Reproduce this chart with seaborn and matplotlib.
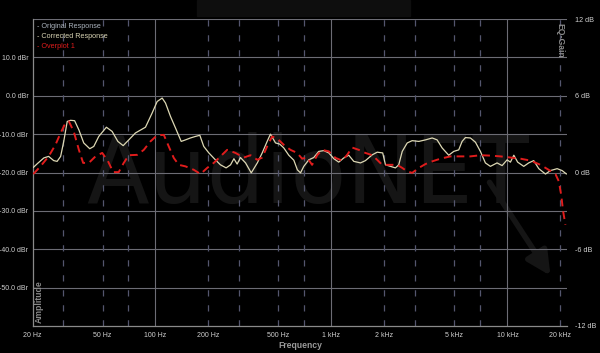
import matplotlib
matplotlib.use("Agg")
import matplotlib.pyplot as plt
import seaborn as sns
import pandas as pd

# ---------------- data ----------------
corr_freq = [20.2, 21.3, 23.2, 24.7, 26.4, 27.6, 28.9, 30.1, 31.5, 32.9, 34.7, 36.7,
             39.1, 42.3, 44.6, 47.6, 52.6, 56.7, 61.1, 65.5, 70.5, 76.9, 87.7, 95.7,
             102.2, 109.1, 114, 121.7, 129.9, 140, 148, 158, 168.8, 178.6, 188, 201,
             219, 234, 252, 267, 279, 291, 304, 325, 350, 379, 404, 431, 450, 481,
             508, 536, 572, 611, 640, 667, 696, 743, 793, 847, 904, 966, 1031, 1100,
             1175, 1254, 1339, 1462, 1560, 1704, 1819, 1955, 2027, 2163, 2309, 2411,
             2524, 2694, 2875, 3136, 3421, 3735, 3985, 4255, 4638, 4954, 5287, 5524,
             5770, 6160, 6577, 7020, 7494, 8000, 8730, 9328, 9955, 10400, 10870,
             11430, 12380, 13210, 14100, 15070, 16450, 17550, 19160, 20460, 21640]
corr_db = [-18.7, -17.7, -16.2, -15.8, -16.9, -17.1, -15.8, -11.9, -6.7, -6.4, -6.5, -8.9,
           -12.3, -13.8, -13.2, -10.6, -8.2, -9.3, -11.9, -13.0, -11.5, -9.7, -8.2, -4.5,
           -1.5, -0.6, -1.9, -5.4, -8.4, -11.9, -11.5, -11.0, -10.6, -10.3, -13.2, -14.9,
           -16.7, -18.0, -18.8, -18.0, -16.4, -17.8, -16.1, -17.5, -20.1, -17.5, -14.9,
           -11.9, -10.0, -12.3, -12.6, -13.6, -15.5, -16.8, -19.3, -20.1, -18.4, -16.7,
           -16.1, -14.5, -14.3, -14.9, -16.4, -17.3, -16.2, -15.5, -17.1, -17.5, -16.9,
           -15.4, -14.7, -14.9, -18.0, -18.4, -18.8, -18.0, -14.5, -12.3, -11.7, -11.9,
           -11.5, -11.0, -11.5, -13.6, -15.5, -14.5, -14.1, -11.9, -10.9, -11.0, -12.1,
           -14.5, -17.5, -18.4, -17.5, -18.2, -16.7, -17.3, -15.5, -17.3, -18.4, -17.5,
           -16.9, -19.0, -20.4, -19.5, -19.0, -19.5, -20.4]

over_freq = [20.2, 22.2, 24.7, 27.0, 28.9, 30.8, 32.2, 34.3, 36.7, 38.8, 41.8, 45.6,
             49.8, 53.5, 57.5, 61.8, 66.0, 70.5, 78.7, 85.8, 93.6, 102.2, 111.5, 118.9,
             127, 135.6, 148, 165.1, 180.2, 196.7, 214.4, 234, 255.4, 284.6, 317.8,
             346.9, 379, 404, 431, 460, 501, 536, 585, 638, 681, 727, 776, 829, 885,
             966, 1054, 1150, 1228, 1311, 1430, 1560, 1704, 1819, 1941, 2115, 2361,
             2524, 2694, 2875, 3136, 3421, 3735, 4162, 4743, 5408, 6160, 7020, 8000,
             9120, 10400, 11860, 13520, 15400, 17150, 18740, 19580, 20200, 20720, 21350]
over_db = [-20.4, -18.4, -15.8, -12.8, -9.7, -7.1, -6.7, -9.3, -14.1, -17.5, -17.5, -15.8,
           -14.9, -16.9, -19.9, -19.9, -17.5, -15.5, -15.4, -14.1, -11.9, -10.3, -10.2,
           -13.2, -16.2, -18.0, -18.4, -19.3, -20.4, -18.8, -17.5, -15.8, -14.1, -14.9,
           -16.1, -15.5, -16.7, -16.1, -13.2, -10.6, -11.5, -12.8, -14.1, -14.9, -16.4,
           -16.1, -18.0, -15.5, -14.1, -14.5, -16.2, -16.9, -15.4, -13.5, -14.1, -14.9,
           -15.5, -16.7, -18.0, -18.0, -18.0, -18.8, -19.7, -20.1, -18.8, -17.8, -17.1,
           -16.4, -15.8, -15.8, -15.8, -15.5, -15.6, -15.8, -16.1, -16.4, -16.9, -18.0,
           -19.3, -20.4, -22.3, -25.8, -30.1, -33.6]

x_tick_freqs = [20, 50, 100, 200, 500, 1000, 2000, 5000, 10000, 20000]
x_tick_labels = ["20 Hz", "50 Hz", "100 Hz", "200 Hz", "500 Hz", "1 kHz", "2 kHz",
                 "5 kHz", "10 kHz", "20 kHz"]
left_ticks = [10, 0, -10, -20, -30, -40, -50]
left_labels = ["10.0 dBr", "0.0 dBr", "-10.0 dBr", "-20.0 dBr", "-30.0 dBr",
               "-40.0 dBr", "-50.0 dBr"]
right_ticks = [12, 6, 0, -6, -12]
right_labels = ["12 dB", "6 dB", "0 dB", "-6 dB", "-12 dB"]
solid_grid = [100, 1000, 10000]
dashed_grid = [30, 50, 70, 200, 300, 500, 700, 2000, 3000, 5000, 7000, 20000]
legend_labels = ["- Original Response", "- Corrected Response", "- Overplot 1"]
legend_colors = ["#aab2bc", "#d9d4b4", "#e01c1c"]

# ---------------- style ----------------
sns.set_theme(style="dark")
plt.rcParams["font.family"] = ["Liberation Sans", "DejaVu Sans"]

W, H = 600, 353
fig = plt.figure(figsize=(6.0, 3.53), dpi=100, facecolor="black")
ax = fig.add_axes([32.5 / W, 27 / H, 534.5 / W, 307 / H])
ax.set_facecolor("black")

# background decorations (watermark, top bar)
fig.patches.append(plt.Rectangle((197 / W, 1 - 16 / H), 213 / W, 16 / H,
                                 transform=fig.transFigure, color="#0e0e0e", zorder=0))
ax.text(0.515, 0.40, "AudioNET", transform=ax.transAxes, fontsize=66,
        color="#151515", ha="center", va="baseline", zorder=0.5,
        family="DejaVu Sans")
ax.annotate("", xy=(552 / W, 1 - 278 / H), xytext=(488 / W, 1 - 180 / H),
            xycoords="figure fraction", textcoords="figure fraction",
            arrowprops=dict(arrowstyle="-|>,head_length=1.2,head_width=0.6",
                            color="#151515", lw=4), zorder=0.5)

# axes & grid
ax.set_xscale("log")
ax.set_xlim(20, 21800)
ax.set_ylim(-60, 20)
for v in left_ticks + [20]:
    ax.axhline(v, color="#6c6c74", lw=0.8, zorder=1)
for f in solid_grid:
    ax.axvline(f, color="#6c6c74", lw=0.8, zorder=1)
for f in dashed_grid:
    ax.axvline(f, color="#54566e", lw=0.9, ls=(0, (5, 7)), zorder=1)

# curves
df_c = pd.DataFrame({"freq": corr_freq, "db": corr_db})
df_o = pd.DataFrame({"freq": over_freq, "db": over_db})
sns.lineplot(data=df_c, x="freq", y="db", ax=ax, color="#ddd8b4", lw=0.9,
             estimator=None, sort=False, zorder=3)
sns.lineplot(data=df_o, x="freq", y="db", ax=ax, color="#e01c1c", lw=1.4,
             estimator=None, sort=False, zorder=4)
ax.lines[-1].set_dashes((4, 2.6))

ax.set_xlabel("")
ax.set_ylabel("")
ax.set_xticks(x_tick_freqs)
ax.set_xticklabels(x_tick_labels)
ax.minorticks_off()
ax.set_yticks(left_ticks)
ax.set_yticklabels(left_labels)
ax.tick_params(axis="both", length=0, labelsize=5.0, labelcolor="#d0d0d0")
ax.tick_params(axis="x", pad=4)
ax.tick_params(axis="y", pad=3)
ax.grid(False)
for s in ["left", "bottom"]:
    ax.spines[s].set_visible(True)
    ax.spines[s].set_color("#8a8a8a")
    ax.spines[s].set_linewidth(0.9)
for s in ["top", "right"]:
    ax.spines[s].set_visible(False)

ax2 = ax.twinx()
ax2.set_ylim(-12, 12)
ax2.set_yticks(right_ticks)
ax2.set_yticklabels(right_labels)
ax2.tick_params(axis="y", length=0, labelsize=5.2, labelcolor="#d0d0d0", pad=6)
ax2.grid(False)
for s in ax2.spines.values():
    s.set_visible(False)

# texts
for i, (lab, col) in enumerate(zip(legend_labels, legend_colors)):
    fig.text(37 / W, 1 - (27 + 10 * i) / H, lab, color=col, fontsize=5.2,
             ha="left", va="center")
fig.text(300 / W, 1 - 346 / H, "Frequency", color="#9a9a9a", fontsize=6.2,
         ha="center", va="center", weight="bold")
fig.text(39 / W, 1 - 302 / H, "Amplitude", color="#8a8a8a", fontsize=6.2,
         ha="center", va="center", rotation=90, weight="bold")
fig.text(560 / W, 1 - 40 / H, "EQ-Gain", color="#8a8a8a", fontsize=6.2,
         ha="center", va="center", rotation=-90, weight="bold")

fig.savefig("out.png", dpi=100, facecolor="black")
